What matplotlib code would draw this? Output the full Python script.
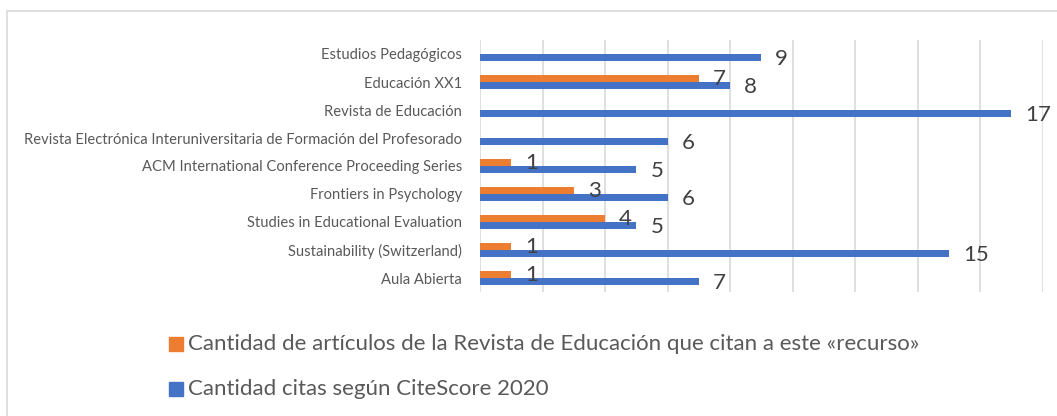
import matplotlib.pyplot as plt
from matplotlib.patches import Rectangle
import numpy as np

# ── Data ──────────────────────────────────────────────────
revistas = [
    'Estudios Pedagógicos',
    'Educación XX1',
    'Revista de Educación',
    'Revista Electrónica Interuniversitaria de Formación del Profesorado',
    'ACM International Conference Proceeding Series',
    'Frontiers in Psychology',
    'Studies in Educational Evaluation',
    'Sustainability (Switzerland)',
    'Aula Abierta',
]
articulos_re = [0, 7, 0, 0, 1, 3, 4, 1, 1]
citas_citescore = [9, 8, 17, 6, 5, 6, 5, 15, 7]

serie_names = ['Cantidad de artículos de la Revista de Educación que citan a este «recurso»',
               'Cantidad citas según CiteScore 2020']
colores = ['#ED7D31', '#4472C4']

plt.rcParams['font.family'] = ['Lato', 'DejaVu Sans']

W, H = 1057, 416
fig = plt.figure(figsize=(W / 100, H / 100), dpi=100)
ax = fig.add_axes([480 / W, 1 - 292 / H, (1042.7 - 480) / W, (292 - 40) / H])

y = np.arange(len(revistas))
h = 0.265
off = 0.132

bars_o = ax.barh(y - off, articulos_re, height=h, color=colores[0], zorder=3)
bars_b = ax.barh(y + off, citas_citescore, height=h, color=colores[1], zorder=3)

# value labels (skip zero)
for bars, vals in [(bars_o, articulos_re), (bars_b, citas_citescore)]:
    for bar, v in zip(bars, vals):
        if v == 0:
            continue
        ax.annotate(f'{v}', (bar.get_width(), bar.get_y() + bar.get_height() / 2),
                    xytext=(14, -1), textcoords='offset pixels',
                    ha='left', va='center', fontsize=16, color='#404040', zorder=4)

ax.set_xlim(0, 18)
ax.set_ylim(len(revistas) - 0.5, -0.5)
ax.set_xticks(np.arange(0, 19, 2))
ax.set_xticklabels([])
ax.set_yticks(y)
ax.set_yticklabels(revistas, fontsize=10.6, color='#595959')
ax.tick_params(axis='both', length=0)
ax.tick_params(axis='y', pad=13)
ax.grid(axis='x', color='#d9d9d9', linewidth=1.2, zorder=0)
for s in ax.spines.values():
    s.set_visible(False)

# legend
for i, (name, col) in enumerate(zip(serie_names, colores)):
    yc = 344 + i * 45
    fig.patches.append(Rectangle((169 / W, 1 - (yc + 7) / H), 14 / W, 14 / H,
                                 transform=fig.transFigure, color=col))
    fig.text(188 / W, 1 - yc / H, name, fontsize=16, color='#595959',
             ha='left', va='center')

# chart border
fig.patches.append(Rectangle((7 / W, -0.1), 1.2, 1.1 - 11 / H, transform=fig.transFigure,
                             fill=False, edgecolor='#d9d9d9', linewidth=1.2))

plt.savefig('out.png', dpi=100)
